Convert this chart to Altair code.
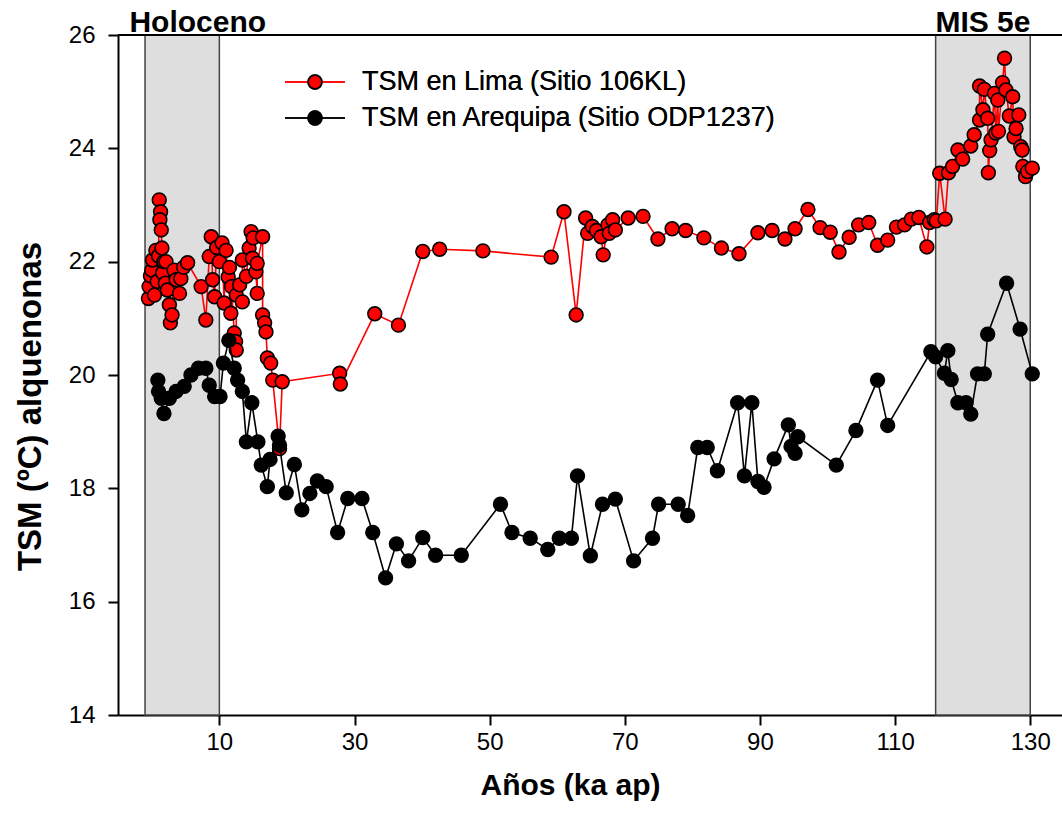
import altair as alt
import pandas as pd

# ---- data ----
lima_age = [-0.5, -0.4, -0.2, 0.0, 0.1, 0.4, 0.6, 0.8, 1.0, 1.1, 1.3, 1.2, 1.4, 1.5, 1.6, 1.8,
            2.0, 2.1, 2.3, 2.6, 2.75, 3.0, 3.3, 3.6, 4.1, 4.3, 4.7, 5.3, 7.3, 8.0, 8.5, 8.8,
            9.0, 9.3, 9.6, 10.0, 10.4, 10.7, 11.0, 11.3, 11.5, 11.7, 11.8, 12.2, 12.4, 12.5,
            12.5, 13.0, 13.4, 13.4, 14.0, 14.4, 14.7, 14.9, 15.0, 15.4, 15.6, 15.6, 16.4, 16.4,
            16.7, 16.9, 17.1, 17.6, 17.9, 18.9, 19.3, 27.8, 27.9, 33.0, 36.5, 40.1, 42.6, 49.0,
            59.1, 61.0, 62.8, 64.2, 64.5, 65.2, 65.8, 66.5, 66.8, 67.5, 67.7, 68.2, 68.6, 70.5,
            72.7, 74.9, 77.0, 79.0, 81.7, 84.3, 86.9, 89.7, 91.8, 93.7, 95.2, 97.1, 98.9, 100.4,
            101.7, 103.2, 104.6, 106.1, 107.4, 108.9, 110.2, 111.4, 112.4, 113.5, 114.7, 115.1,
            115.8, 116.1, 116.6, 117.4, 117.9, 118.5, 119.3, 120.0, 121.2, 121.7, 122.5, 122.5,
            123.0, 123.2, 123.7, 123.8, 124.0, 124.2, 124.7, 124.9, 125.2, 125.3, 125.9, 126.2,
            126.4, 126.9, 127.4, 127.6, 127.9, 128.3, 128.6, 128.8, 128.9, 129.3, 129.6, 130.3]
lima_sst = [21.35, 21.56, 21.75, 21.85, 22.03, 21.41, 22.2, 21.65, 22.1, 23.09, 22.88, 22.74,
            22.56, 22.24, 21.8, 22.0, 21.62, 22.0, 21.5, 21.24, 20.92, 21.06, 21.85, 21.68,
            21.44, 21.7, 21.9, 21.98, 21.56, 20.97, 22.09, 22.44, 21.68, 21.38, 22.25, 22.0,
            22.33, 21.27, 22.2, 21.73, 21.9, 21.09, 21.56, 20.74, 20.59, 20.44, 21.41, 21.59,
            21.29, 22.03, 21.74, 22.24, 22.53, 22.06, 22.42, 21.82, 21.44, 21.97, 22.44, 21.06,
            20.92, 20.76, 20.3, 20.21, 19.91, 18.7, 19.88, 20.03, 19.84, 21.08, 20.88, 22.18,
            22.22, 22.19, 22.08, 22.88, 21.06, 22.77, 22.5, 22.62, 22.55, 22.44, 22.12, 22.65,
            22.5, 22.74, 22.56, 22.77, 22.8, 22.4, 22.58, 22.55, 22.42, 22.24, 22.14, 22.51,
            22.55, 22.4, 22.58, 22.92, 22.6, 22.52, 22.17, 22.43, 22.65, 22.69, 22.29, 22.38,
            22.61, 22.65, 22.75, 22.78, 22.26, 22.69, 22.74, 22.72, 23.56, 22.75, 23.57, 23.68,
            23.97, 23.81, 24.04, 24.24, 24.5, 25.1, 24.68, 25.04, 24.53, 23.57, 23.96, 24.15,
            24.97, 24.27, 24.85, 24.3, 25.16, 25.59, 25.03, 24.57, 24.91, 24.2, 24.35, 24.59,
            24.03, 23.97, 23.68, 23.5, 23.59, 23.65]

areq_age = [0.9, 1.0, 1.4, 1.8, 2.6, 3.6, 4.8, 5.8, 6.9, 8.0, 8.5, 9.3, 10.1, 10.6, 11.4, 12.2,
            12.7, 13.4, 14.0, 14.8, 15.7, 16.2, 17.1, 17.5, 18.7, 18.9, 19.9, 21.1, 22.2, 23.4,
            24.5, 25.8, 27.5, 29.0, 31.1, 32.7, 34.6, 36.2, 38.0, 40.1, 42.0, 45.8, 51.6, 53.3,
            56.0, 58.6, 60.3, 62.1, 63.0, 64.9, 66.7, 68.6, 71.3, 74.1, 75.0, 77.9, 79.3, 80.8,
            82.2, 83.7, 86.7, 87.7, 88.8, 89.7, 90.6, 92.1, 94.2, 94.6, 95.2, 95.6, 101.3, 104.2,
            107.4, 108.9, 115.3, 116.0, 117.3, 117.8, 118.3, 119.3, 120.5, 121.2, 122.2, 123.2,
            123.7, 126.5, 128.5, 130.3]
areq_sst = [19.91, 19.71, 19.59, 19.32, 19.59, 19.71, 19.8, 20.0, 20.12, 20.12, 19.82, 19.62,
            19.62, 20.21, 20.61, 20.12, 19.91, 19.71, 18.82, 19.51, 18.82, 18.41, 18.03, 18.51,
            18.92, 18.76, 17.92, 18.42, 17.62, 17.91, 18.13, 18.03, 17.22, 17.82, 17.82, 17.22,
            16.42, 17.02, 16.72, 17.13, 16.82, 16.82, 17.72, 17.22, 17.12, 16.92, 17.12, 17.12,
            18.22, 16.81, 17.72, 17.81, 16.72, 17.12, 17.72, 17.72, 17.52, 18.72, 18.72, 18.31,
            19.51, 18.22, 19.51, 18.12, 18.02, 18.52, 19.12, 18.74, 18.62, 18.91, 18.41, 19.02,
            19.91, 19.11, 20.41, 20.32, 20.03, 20.43, 19.92, 19.51, 19.51, 19.31, 20.02, 20.02,
            20.72, 21.62, 20.81, 20.02]

period_start = [-1, 116]
period_end = [10, 130]
period_label = ["Holoceno", "MIS 5e"]
period_label_x = [6.8, 123]

x_ticks = [10, 30, 50, 70, 90, 110, 130]
y_ticks = [14, 16, 18, 20, 22, 24, 26]
series_names = ["TSM en Lima (Sitio 106KL)", "TSM en Arequipa (Sitio ODP1237)"]

# ---- tables ----
lima = pd.DataFrame({"age": lima_age, "sst": lima_sst, "ord": range(len(lima_age))})
areq = pd.DataFrame({"age": areq_age, "sst": areq_sst, "ord": range(len(areq_age))})
periods = pd.DataFrame({"start": period_start, "end": period_end,
                        "label": period_label, "lx": period_label_x})

W, H = 944, 680
FONT = "Liberation Sans"
PT_SIZE = 190

xscale = alt.Scale(domain=[-5, 134.7], nice=False, zero=False)
yscale = alt.Scale(domain=[14, 26], nice=False, zero=False)

x_axis = alt.Axis(values=x_ticks, format="d", title="Años (ka ap)", grid=False, tickSize=10,
                  tickWidth=2, domainWidth=2, domainColor="black", tickColor="black",
                  labelFont=FONT, labelFontSize=24, labelPadding=5, labelColor="black",
                  titleFont=FONT, titleFontSize=30, titleFontWeight="bold", titleColor="black",
                  titleX=452, titleY=70, titleBaseline="middle")
y_axis = alt.Axis(values=y_ticks, format="d", title="TSM (ºC) alquenonas", grid=False,
                  tickSize=10, tickWidth=2, domainWidth=2, domainColor="black",
                  tickColor="black", labelFont=FONT, labelFontSize=24, labelPadding=13,
                  labelColor="black", titleFont=FONT, titleFontSize=33, titleFontWeight="bold",
                  titleColor="black", titleAngle=270, titleX=-88, titleY=371,
                  titleBaseline="middle")

shade = alt.Chart(periods).mark_rect(fill="#dedede", stroke="#444444", strokeWidth=1.5).encode(
    x=alt.X("start:Q", scale=xscale, axis=x_axis),
    x2="end:Q",
    y=alt.value(0),
    y2=alt.value(H),
)

labels = alt.Chart(periods).mark_text(font=FONT, fontSize=30, fontWeight="bold",
                                      baseline="alphabetic", align="center",
                                      color="black").encode(
    x=alt.X("lx:Q", scale=xscale),
    y=alt.value(-3),
    text="label:N",
)

top_rule = alt.Chart(periods).mark_rule(color="black", strokeWidth=2).encode(
    x=alt.value(0), x2=alt.value(W), y=alt.value(0)
)

lima_line = alt.Chart(lima).mark_line(color="#ff0000", strokeWidth=1.6).encode(
    x=alt.X("age:Q", scale=xscale),
    y=alt.Y("sst:Q", scale=yscale, axis=y_axis),
    order="ord:Q",
)
lima_pts = alt.Chart(lima).mark_point(filled=True, shape="circle", size=PT_SIZE, fill="#ff0000",
                                      stroke="black", strokeWidth=1.6, opacity=1).encode(
    x=alt.X("age:Q", scale=xscale),
    y=alt.Y("sst:Q", scale=yscale),
)
areq_line = alt.Chart(areq).mark_line(color="black", strokeWidth=1.6).encode(
    x=alt.X("age:Q", scale=xscale),
    y=alt.Y("sst:Q", scale=yscale),
    order="ord:Q",
)
areq_pts = alt.Chart(areq).mark_point(filled=True, shape="circle", size=PT_SIZE, fill="black",
                                      stroke="black", strokeWidth=1.6, opacity=1).encode(
    x=alt.X("age:Q", scale=xscale),
    y=alt.Y("sst:Q", scale=yscale),
)

# manual legend
def legend_item(name, line_color, fill, ypix):
    ln = alt.Chart(periods).mark_rule(color=line_color, strokeWidth=1.6).encode(
        x=alt.value(167), x2=alt.value(227), y=alt.value(ypix))
    pt = alt.Chart(periods).mark_point(filled=True, shape="circle", size=PT_SIZE, fill=fill,
                                       stroke="black", strokeWidth=1.6, opacity=1).encode(
        x=alt.value(197), y=alt.value(ypix))
    tx = alt.Chart(periods).mark_text(font=FONT, fontSize=27, align="left", baseline="middle",
                                      color="black").encode(
        x=alt.value(244), y=alt.value(ypix), text=alt.value(name))
    return [ln, pt, tx]

leg = legend_item(series_names[0], "#ff0000", "#ff0000", 47) + \
      legend_item(series_names[1], "black", "black", 83)

chart = alt.layer(shade, top_rule, labels, lima_line, lima_pts, areq_line, areq_pts, *leg).properties(
    width=W, height=H,
    autosize=alt.AutoSizeParams(type="none"),
    padding={"left": 118, "top": 35, "right": 0, "bottom": 113},
    background="white",
).configure_view(stroke=None)

chart.save("out.html", embed_options={"renderer": "svg", "actions": False})
